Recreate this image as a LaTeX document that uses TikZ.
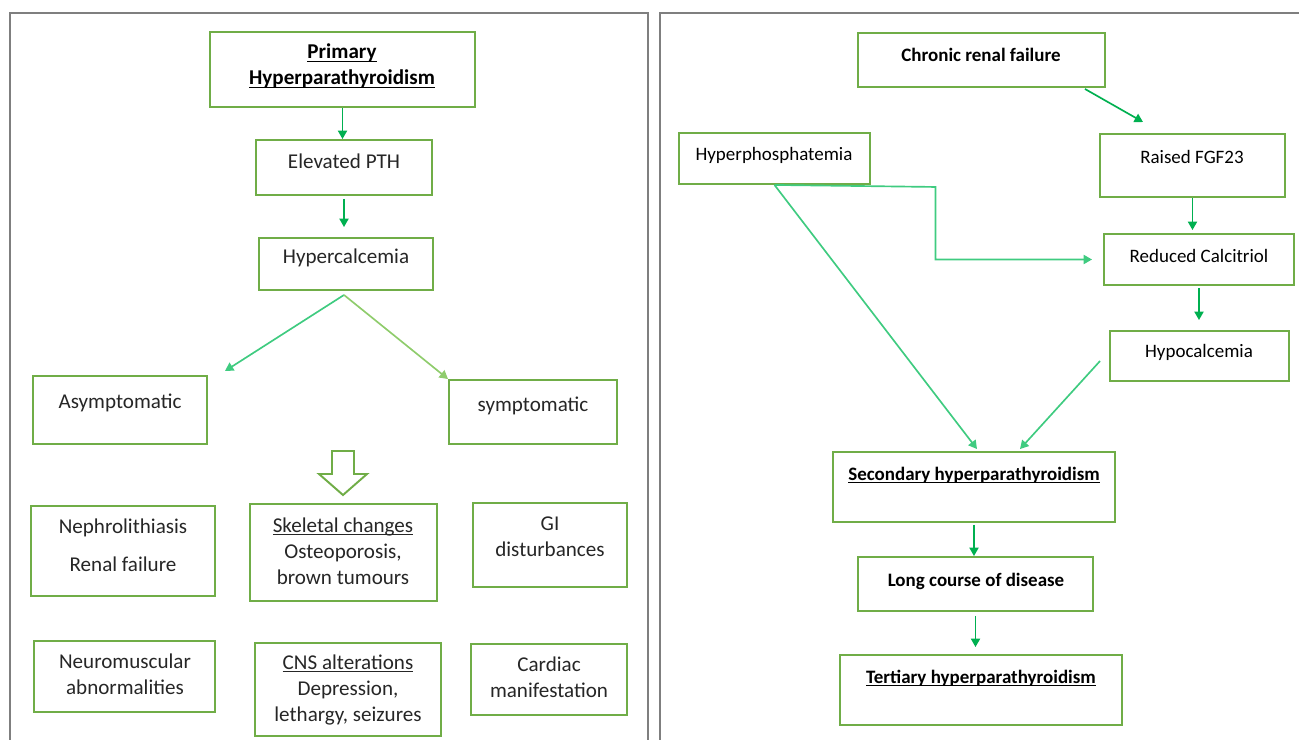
\documentclass[tikz,border=0pt]{standalone}
\usepackage{fontspec}
\setmainfont{Carlito}
\usetikzlibrary{arrows.meta,calc,fit}
\definecolor{boxgreen}{HTML}{70AD47}
\definecolor{arrgreen}{HTML}{00B050}
\definecolor{mintgreen}{HTML}{3FCB80}
\definecolor{palegreen}{HTML}{8FCC6C}
\definecolor{framegray}{HTML}{7F7F7F}
\def\ulin#1{\setbox0\hbox{#1}\rlap{\rule[-1.7pt]{\wd0}{0.6pt}}\box0}
\tikzset{
	box/.style={draw=boxgreen, line width=1.1pt, inner sep=0pt},
	txt/.style={align=center, inner sep=0pt, text=black!85, font=\fontsize{12}{14.8}\selectfont},
	btxt/.style={txt, text=black, font=\fontsize{12}{14.8}\selectfont\bfseries},
	rtxt/.style={align=center, inner sep=0pt, text=black, font=\fontsize{10.8}{13}\selectfont},
	rbtxt/.style={rtxt, font=\fontsize{10.8}{13}\selectfont\bfseries},
	arr/.style={draw=arrgreen, line width=0.95pt, -{Triangle[length=4.8pt,width=5.2pt]}},
	frame/.style={draw=framegray, line width=1.7pt},
}

\begin{document}
\begin{tikzpicture}[x=0.02cm, y=-0.02cm]
		%%%%% START %%%%%
		\useasboundingbox (0,0) rectangle (1299,740);
		
		\draw[frame] (10,745) -- (10,13) -- (648,13) -- (648,745);
		\draw[frame] (660,745) -- (660,13) -- (1305,13);
		
		% primary side
		\node[box, fit={(210,32) (475,107)}] (primary) {};
		\node[btxt] (primarytxt) at (342,66) {\ulin{Primary}\\\ulin{Hyperparathyroidism}};
		\node[box, fit={(256,140) (432,195)}] (pth) {};
		\node[txt] (pthtxt) at (344,161) {Elevated PTH};
		\node[box, fit={(259,238) (433,290)}] (hyper) {};
		\node[txt] (hypertxt) at (346,258) {Hypercalcemia};
		
		\node[box, fit={(33,376) (207,444)}] (asym) {};
		\node[txt] (asymtxt) at (120,403) {Asymptomatic};
		\node[box, fit={(449,380) (617,444)}] (symp) {};
		\node[txt] (symptxt) at (533,406) {symptomatic};
		
		\node[box, fit={(31,506) (215,596)}] (neph) {};
		\node[txt] (nephtxt) at (123,545) {Nephrolithiasis\\[6.8pt]Renal failure};
		\node[box, fit={(250,504) (437,601)}] (skel) {};
		\node[txt] (skeltxt) at (343,551) {\ulin{Skeletal changes}\\Osteoporosis,\\brown tumours};
		\node[box, fit={(473,503) (627,587)}] (gi) {};
		\node[txt] (gitxt) at (550,537) {GI\\disturbances};
		
		\node[box, fit={(34,641) (215,712)}] (neuro) {};
		\node[txt] (neurotxt) at (125,674) {Neuromuscular\\abnormalities};
		\node[box, fit={(255,643) (441,736)}] (cns) {};
		\node[txt] (cnstxt) at (348,690) {\ulin{CNS alterations}\\Depression,\\lethargy, seizures};
		\node[box, fit={(471,644) (627,715)}] (cardiac) {};
		\node[txt] (cardiactxt) at (549,677) {Cardiac\\manifestation};
		
		\draw[arr] (primary.south) -- (primary.south |- pth.north);
		\draw[arr, shorten <=0.06cm, shorten >=0.2cm] (pth.south) -- (pth.south |- hyper.north);
		\coordinate (fork) at ($(hyper.south)+(-2,4)$);
		\draw[arr, draw=mintgreen] (fork) -- ($(asym.north east)+(17,-4)$);
		\draw[arr, draw=palegreen] (fork) -- (symp.north west);
		
		\draw[draw=boxgreen, line width=1.1pt, fill=white, line join=miter]
			(332,451) -- (354,451) -- (354,474) -- (367,474) -- (343,495)
			-- (319,474) -- (332,474) -- cycle;
		
		% secondary side
		\node[box, fit={(858,33) (1105,87)}] (chronic) {};
		\node[rbtxt] (chronictxt) at (981,55) {Chronic renal failure};
		\node[box, fit={(679,133) (870,184)}] (hyperphos) {};
		\node[rtxt] (hyperphostxt) at (774,155) {Hyperphosphatemia};
		\node[box, fit={(1100,134) (1285,197)}] (fgf) {};
		\node[rtxt] (fgftxt) at (1192,157) {Raised FGF23};
		\node[box, fit={(1104,234) (1294,285)}] (calc) {};
		\node[rtxt] (calctxt) at (1199,256) {Reduced Calcitriol};
		\node[box, fit={(1110,331) (1289,381)}] (hypoc) {};
		\node[rtxt] (hypoctxt) at (1199,352) {Hypocalcemia};
		
		\node[box, fit={(833,452) (1115,522)}] (sec) {};
		\node[rbtxt] (sectxt) at (974,475) {\ulin{Secondary hyperparathyroidism}};
		\node[box, fit={(858,557) (1093,611)}] (long) {};
		\node[rbtxt] (longtxt) at (976,581) {Long course of disease};
		\node[box, fit={(840,655) (1122,725)}] (tert) {};
		\node[rbtxt] (terttxt) at (981,678) {\ulin{Tertiary hyperparathyroidism}};
		
		\draw[arr] ($(chronic.south east)+(-21,1)$) -- ($(fgf.north west)+(44,-11)$);
		\draw[arr, shorten >=0.06cm] (fgf.south) -- (fgf.south |- calc.north);
		\draw[arr, shorten <=0.04cm, shorten >=0.2cm] (calc.south) -- (calc.south |- hypoc.north);
		\draw[arr, draw=mintgreen, shorten >=0.22cm] (hyperphos.south) -- ++(161,2) |- (calc.west);
		\draw[arr, draw=mintgreen] (hyperphos.south) -- ($(sec.north)+(3,-2)$);
		\draw[arr, draw=mintgreen] ($(hypoc.west)+(-9,5)$) -- ($(sec.north)+(46,-2)$);
		\draw[arr, shorten <=0.04cm] (sec.south) -- (sec.south |- long.north);
		\draw[arr, shorten <=0.08cm, shorten >=0.14cm] (long.south) -- (long.south |- tert.north);
		
		%%%%% END %%%%%
	\end{tikzpicture}
\end{document}
